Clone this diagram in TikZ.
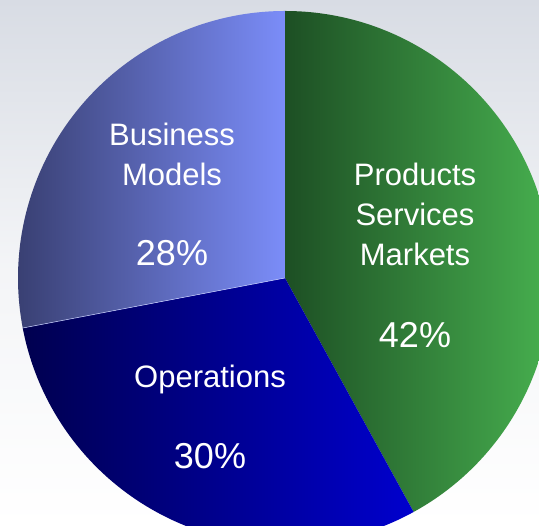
\documentclass[tikz,border=0pt]{standalone}
\usepackage{fontspec}
\setmainfont{Liberation Sans}
\usepackage{tikz}
\usetikzlibrary{calc}

\definecolor{bgtop}{HTML}{D8DCE4}
\definecolor{prodleft}{HTML}{1D4F24}
\definecolor{prodright}{HTML}{47B04F}
\definecolor{busleft}{HTML}{363C6C}
\definecolor{busright}{HTML}{7B8DF9}
\definecolor{opleft}{HTML}{00004F}
\definecolor{opright}{HTML}{0000CE}

\tikzset{
	label/.style={text=white,align=center,anchor=base,font=\fontsize{31}{40}\selectfont},
	pct/.style={text=white,anchor=base,font=\fontsize{36}{40}\selectfont}
}

\begin{document}
\begin{tikzpicture}[x=1pt,y=1pt]
				\useasboundingbox (-285,-248) rectangle (254,278);
				\clip (-285,-248) rectangle (254,278);
				\shade[top color=bgtop,bottom color=white,middle color=white!70!bgtop] (-285,-248) rectangle (254,278);
				
				\shade[left color=prodleft,right color=prodright] (0,0) -- (90:267) arc[start angle=90,end angle=-61.2,radius=267] -- cycle;
				\shade[left color=opleft,right color=opright] (0,0) -- (-61.2:267) arc[start angle=-61.2,end angle=-169.2,radius=267] -- cycle;
				\shade[left color=busleft,right color=busright] (0,0) -- (-169.2:267) arc[start angle=-169.2,end angle=-270,radius=267] -- cycle;
				\draw[white!55!busright,line width=0.5pt] (0,0) -- (-169.2:267);
				
				\node[label] (business) at (-113,92) {Business\\Models};
				\node[pct] (businesspct) at (-113,12) {28\%};
				\node[label] (products) at (130,12) {Products\\Services\\Markets};
				\node[pct] (productspct) at (130,-70) {42\%};
				\node[label] (operations) at (-75,-110) {Operations};
				\node[pct] (operationspct) at (-75,-191) {30\%};
\end{tikzpicture}
\end{document}
